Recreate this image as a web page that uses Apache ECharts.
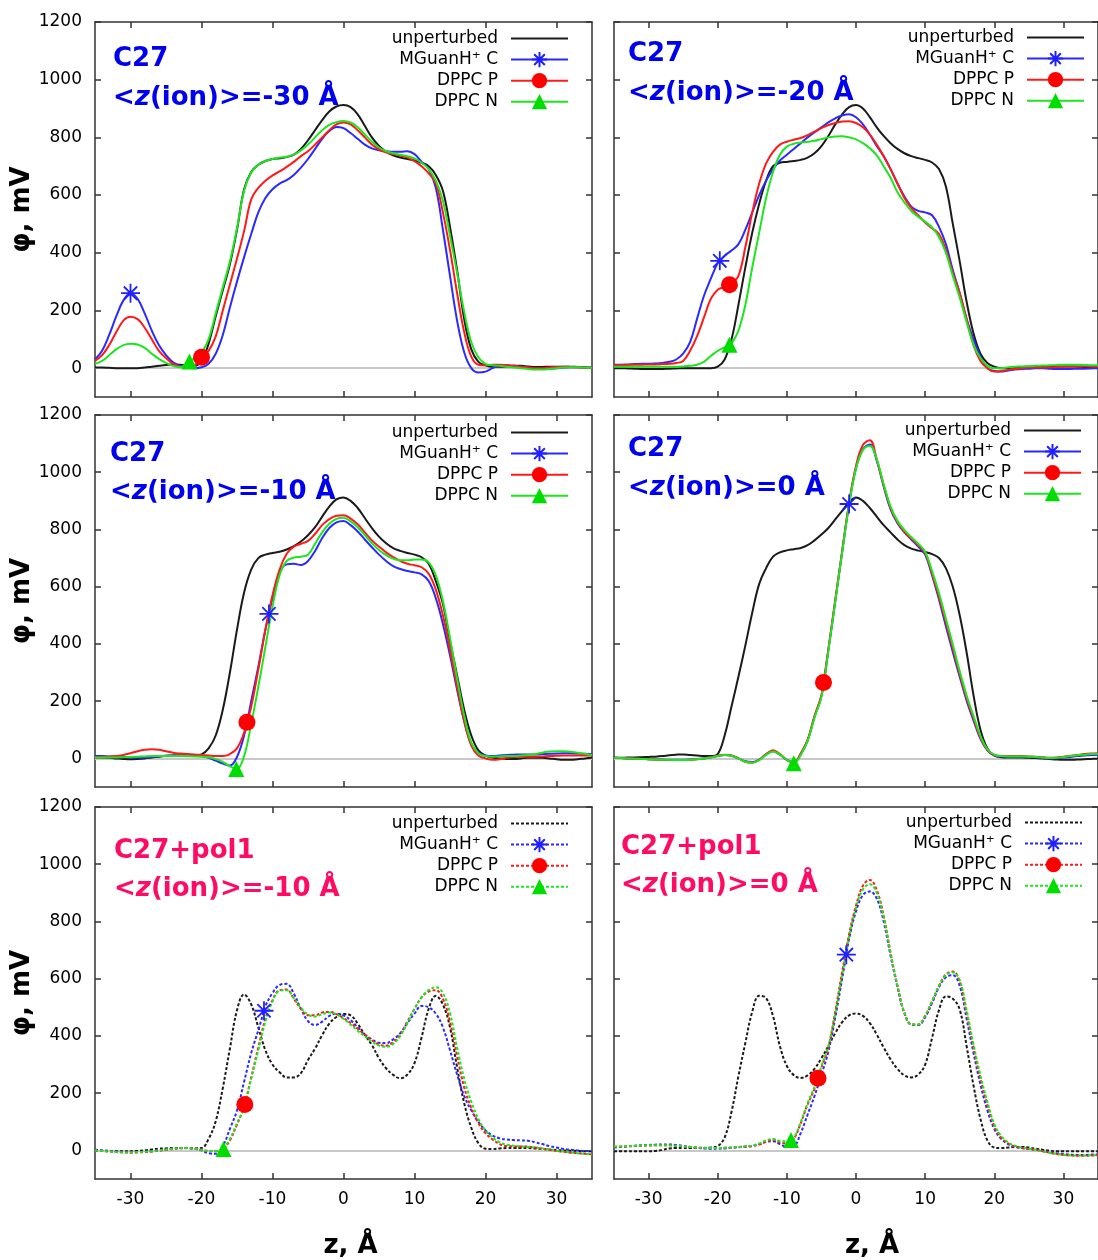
<!DOCTYPE html>
<html>
<head>
<meta charset="utf-8">
<script src="https://cdn.jsdelivr.net/npm/echarts@6/dist/echarts.min.js"></script>
<style>
  html, body { margin: 0; padding: 0; background: #fff; }
  #chart { width: 1098px; height: 1260px; }
</style>
</head>
<body>
<div id="chart"></div>
<script>
// sampling grid along z (Å), one point per Å from -35 to 35
const zGrid = [];
for (let z = -35; z <= 35; z++) zGrid.push(z);

const xTicks = [-30, -20, -10, 0, 10, 20, 30];
const yTicks = [0, 200, 400, 600, 800, 1000, 1200];
const seriesNames = ['unperturbed', 'MGuanH⁺ C', 'DPPC P', 'DPPC N'];

// ---- C27, <z(ion)> = -30 Å
const p1Unpert = [2,2,1,0,0,0,0,2,5,8, 11,13,12,8,8,25,85,180,270,360, 480,620,680,705,718,725,728,732,740,760,
  790,825,860,890,907,912,905,880,840,800, 770,750,738,730,725,720,712,700,670,615, 490,340,170,65,22,10,5,5,6,8,
  8,6,4,4,5,5,5,5,4,3,2];
const p1Guan = [30,60,115,180,235,260,240,190,130,80, 45,20,8,2,0,3,15,50,115,210, 300,385,465,540,590,620,640,652,670,695,
  725,760,795,822,836,832,815,795,775,762, 755,752,750,750,752,742,715,690,625,480, 320,165,55,0,-15,-12,0,10,10,8,
  5,2,0,-2,-2,0,2,3,3,2,1];
const p1DppcP = [25,45,80,125,165,178,170,140,100,60, 35,15,5,1,8,38,60,110,200,290, 380,475,585,625,650,668,682,698,715,735,
  752,775,800,825,845,852,845,825,800,775, 758,748,742,737,730,718,700,675,640,540, 410,260,125,40,12,10,12,12,10,8,
  5,2,0,0,2,4,5,4,3,2,1];
const p1DppcN = [15,25,45,65,80,85,82,70,50,32, 18,8,3,18,35,55,100,190,280,370, 485,615,678,705,718,725,730,733,740,755,
  775,800,825,843,853,857,852,835,810,785, 765,752,745,740,735,727,712,690,650,580, 460,330,195,90,38,15,10,8,5,2,
  0,-3,-5,-5,-3,0,2,3,3,2,1];
const p1Marks = [[-30, 260], [-20, 38], [-21.7, 23]];

// ---- C27, <z(ion)> = -20 Å
const p2Unpert = [0,0,-1,-2,-3,-3,-3,-3,-2,-1, 0,0,0,0,0,5,30,100,220,350, 470,570,650,700,712,715,718,722,730,745,
  770,805,845,880,905,912,900,870,835,805, 780,760,745,735,728,722,713,690,630,500, 370,230,120,50,18,5,0,0,2,4,
  5,4,4,5,6,6,6,5,4,3,2];
const p2Guan = [12,12,13,14,15,15,16,18,22,30, 50,90,170,250,310,365,390,408,430,480, 540,600,650,690,720,740,760,780,800,818,
  835,852,866,876,880,870,845,810,770,735, 690,640,595,560,545,540,530,490,430,340, 260,170,100,40,0,-10,-12,-8,-5,-3,
  -2,0,0,-2,-3,-3,-3,-2,-2,-1,0];
const p2DppcP = [10,10,11,12,12,13,13,14,15,18, 25,60,110,175,240,272,282,292,320,420, 540,640,710,750,775,785,792,798,808,820,
  832,843,850,855,856,850,835,810,775,735, 690,640,590,555,530,505,485,465,410,330, 260,170,80,25,0,-12,-10,-6,-3,0,
  2,2,2,3,4,5,6,6,7,6,5];
const p2DppcN = [5,5,5,5,5,5,5,5,5,5, 6,8,12,22,42,60,72,85,130,220, 350,470,590,680,740,768,778,782,785,788,
  794,800,803,804,800,793,780,762,738,700, 660,610,575,545,525,508,488,455,400,320, 245,160,80,35,8,0,0,3,5,6,
  7,8,9,10,11,12,12,12,11,10,10];
const p2Marks = [[-19.7, 372], [-18.3, 289], [-18.3, 81]];

// ---- C27, <z(ion)> = -10 Å
const p3Unpert = [3,3,2,0,-2,-3,-2,0,3,6, 9,10,10,10,11,14,35,80,170,300, 450,580,660,700,712,718,722,730,742,758,
  780,808,845,880,905,912,900,875,840,805, 775,752,735,725,718,712,703,680,620,540, 410,290,170,80,28,10,3,0,-2,-2,
  0,2,2,2,0,-3,-5,-5,-3,0,2];
const p3Guan = [8,8,7,6,5,3,2,3,5,7, 9,10,10,10,10,8,2,-8,-18,-25, 5,80,200,320,450,560,650,678,680,676,
  690,725,770,805,825,830,815,793,765,738, 712,690,672,662,655,650,643,620,560,470, 360,240,130,50,20,10,8,10,12,13,
  14,14,14,15,16,17,18,18,17,16,15];
const p3DppcP = [4,5,6,8,12,18,25,30,32,30, 25,20,17,15,14,12,10,8,8,15, 35,90,180,310,450,570,660,715,740,750,
  760,785,815,836,848,850,838,818,790,762, 740,720,703,690,680,675,668,645,590,500, 380,250,130,45,10,0,-5,-3,2,5,
  6,6,6,7,8,9,10,10,10,10,10];
const p3DppcN = [3,3,3,3,4,5,6,7,8,8, 8,8,8,8,7,6,4,-2,-12,-28, -38,8,120,250,390,530,640,690,702,705,
  712,750,790,820,837,841,828,808,780,752, 728,710,698,692,692,695,695,685,640,550, 420,280,150,55,18,8,6,7,8,8,
  10,12,15,20,24,25,25,23,20,16,12];
const p3Marks = [[-10.5, 505], [-13.6, 126], [-15.1, -37]];

// ---- C27, <z(ion)> = 0 Å
const p4Unpert = [2,2,3,3,4,5,6,8,11,13, 14,12,10,8,8,15,80,182,286,395, 510,610,665,705,720,727,731,735,745,762,
  782,805,835,865,895,912,900,875,845,815, 790,765,745,733,726,721,714,700,665,600, 500,370,220,100,35,10,4,3,3,3,
  2,1,0,-2,-4,-5,-5,-4,-3,-2,-1];
const p4Guan = [2,1,0,-1,-2,-3,-4,-4,-5,-5, -5,-4,-2,0,4,8,12,9,0,-10, -13,-4,14,25,13,-5,-14,14,62,146,
  218,378,550,722,889,1015,1080,1097,1040,950, 870,822,790,765,740,712,640,555,462,372, 285,202,132,68,28,10,7,7,7,6,
  5,4,2,0,1,3,5,8,10,12,13];
const p4DppcP = [2,1,0,-1,-2,-3,-4,-5,-6,-6, -6,-5,-3,0,4,9,13,10,0,-12, -15,-5,15,28,15,-5,-16,18,65,148,
  220,381,553,725,892,1022,1095,1112,1045,955, 875,825,792,768,745,718,645,565,475,385, 295,210,140,72,30,12,8,8,8,8,
  7,6,4,2,3,6,9,12,15,17,18];
const p4DppcN = [2,1,0,-1,-2,-3,-4,-5,-5,-6, -6,-5,-3,0,3,8,12,9,0,-12, -15,-6,12,24,13,-5,-17,12,60,143,
  215,375,548,720,885,1012,1078,1092,1045,958, 880,830,798,773,750,722,655,578,488,398, 305,220,148,78,32,13,8,7,7,7,
  6,5,3,1,2,5,8,11,13,15,16];
const p4Marks = [[-1, 889], [-4.7, 265], [-9, -17]];

// ---- C27+pol1, <z(ion)> = -10 Å
const p5Unpert = [0,-1,-2,-3,-3,-3,-2,0,3,6, 7,8,8,8,7,8,40,102,218,356, 490,545,510,430,350,300,273,255,255,270,
  316,356,403,443,466,477,472,443,403,368, 322,287,264,252,265,305,395,495,540,510, 430,290,165,79,25,6,5,7,8,8,
  8,8,7,5,3,1,0,-1,-2,-3,-3];
const p5Guan = [2,0,-2,-4,-5,-6,-6,-5,-3,0, 3,6,8,8,6,0,-10,-12,15,75, 140,240,340,420,505,550,578,582,548,495,
  452,438,450,470,478,472,455,430,405,388, 376,375,388,410,445,478,505,500,478,430, 350,265,190,140,100,70,52,42,38,36,
  35,34,28,22,15,10,5,2,0,-2,-3];
const p5DppcP = [0,-2,-4,-6,-7,-8,-7,-6,-4,-1, 2,5,7,8,6,2,-2,-3,3,35, 90,150,255,360,460,525,560,562,530,495,
  472,472,482,484,476,462,445,425,405,385, 370,366,378,405,450,495,535,555,560,530, 450,330,220,148,95,60,38,22,15,14,
  14,13,10,6,2,-2,-5,-8,-10,-12,-14];
const p5DppcN = [0,-2,-4,-6,-7,-7,-6,-5,-3,0, 3,6,8,8,6,2,-2,-2,2,40, 95,150,250,350,450,520,558,560,532,498,
  475,468,476,482,476,460,440,418,398,380, 366,362,372,400,445,495,535,560,570,550, 480,360,250,170,110,70,45,28,20,16,
  14,12,10,7,3,-1,-4,-7,-10,-12,-14];
const p5Marks = [[-11.2, 488], [-13.9, 160], [-16.9, 5]];

// ---- C27+pol1, <z(ion)> = 0 Å
const p6Unpert = [-3,-3,-3,-3,-3,-3,-2,2,7,8, 8,8,8,8,10,15,45,135,260,376, 485,540,532,469,364,295,263,253,262,285,
  322,365,410,448,472,478,470,445,405,360, 318,285,262,255,265,300,393,490,538,530, 492,364,226,110,35,10,8,10,12,12,
  10,6,2,-1,-3,-3,-3,-3,-3,-3,-3];
const p6Guan = [10,12,14,16,18,19,20,21,21,19, 16,12,9,7,6,6,7,9,11,13, 16,22,30,32,22,12,15,60,125,190,
  265,345,465,600,740,835,892,905,880,800, 680,570,480,440,438,465,515,570,605,612, 575,460,340,230,140,75,40,22,12,8,
  5,2,-2,-6,-10,-13,-15,-16,-16,-15,-14];
const p6DppcP = [12,13,14,15,16,17,18,18,18,16, 14,12,10,9,8,8,9,10,12,13, 15,20,30,37,28,25,40,95,160,215,
  290,360,485,625,755,855,925,945,910,820, 690,575,480,440,440,470,520,575,615,625, 590,480,360,250,160,85,45,25,14,8,
  5,2,-3,-8,-13,-16,-18,-19,-19,-18,-17];
const p6DppcN = [14,14,15,16,17,18,18,18,17,16, 14,12,10,9,8,8,9,10,12,14, 17,24,35,40,33,32,42,98,165,222,
  295,365,480,615,745,848,912,930,900,815, 690,575,482,440,440,472,522,575,612,622, 595,490,370,262,170,92,50,28,16,10,
  6,2,-3,-8,-12,-15,-17,-18,-18,-17,-16];
const p6Marks = [[-1.4, 684], [-5.5, 252], [-9.4, 36]];

const panelCurves = [
  [p1Unpert, p1Guan, p1DppcP, p1DppcN],
  [p2Unpert, p2Guan, p2DppcP, p2DppcN],
  [p3Unpert, p3Guan, p3DppcP, p3DppcN],
  [p4Unpert, p4Guan, p4DppcP, p4DppcN],
  [p5Unpert, p5Guan, p5DppcP, p5DppcN],
  [p6Unpert, p6Guan, p6DppcP, p6DppcN]
];
const panelMarks = [p1Marks, p2Marks, p3Marks, p4Marks, p5Marks, p6Marks];
const panelTitles = [
  ['C27', '-30 Å'], ['C27', '-20 Å'], ['C27', '-10 Å'],
  ['C27', '0 Å'], ['C27+pol1', '-10 Å'], ['C27+pol1', '0 Å']
];

// layout
const grids = [
  { left: 95, top: 22, width: 497, height: 375 },
  { left: 614, top: 22, width: 496, height: 375 },
  { left: 95, top: 415, width: 497, height: 372 },
  { left: 614, top: 415, width: 496, height: 372 },
  { left: 95, top: 807, width: 497, height: 375 },
  { left: 614, top: 807, width: 496, height: 375 }
];
const legendSpots = [[529, 30], [13, 29], [529, 424], [16, 422], [529, 815], [15, 814]];
const titleSpots = [[113, 59, 98], [628, 54, 93], [110, 454, 492], [628, 449, 488], [114, 851, 889], [621, 847, 885]];

const lineColors = ['#1a1a1a', '#2a2aff', '#ff1a1a', '#1ee61e'];
const markColors = ['#1a1a1a', '#2020ff', '#ff0000', '#00dd00'];
const asterisk = 'path://M0 5L10 5M5 0L5 10M1.5 1.5L8.5 8.5M8.5 1.5L1.5 8.5';
const markSymbols = ['none', asterisk, 'circle', 'triangle'];
const markSizes = [0, 19, 17, 16];
const borderCol = '#333';
const tickFont = { fontFamily: 'DejaVu Sans', fontSize: 17, color: '#000' };
const nameFont = { fontFamily: 'DejaVu Sans', fontWeight: 'bold', fontSize: 26, color: '#000' };

function buildData(vals, mark) {
  let pts = zGrid.map((z, i) => [z, vals[i]]);
  if (mark) {
    pts = pts.filter(p => p[0] !== mark[0]);
    pts.push(mark);
    pts.sort((a, b) => a[0] - b[0]);
  }
  return pts.map(p => (p === mark ? { value: p } : { value: p, symbol: 'none' }));
}

const xAxis = [], yAxis = [], series = [], legend = [], graphic = [];

grids.forEach((g, i) => {
  const leftCol = i % 2 === 0;
  const bottomRow = i >= 4;
  const lineCommon = { show: true, onZero: false, lineStyle: { color: borderCol, width: 1.5 } };
  ['bottom', 'top'].forEach(pos => {
    xAxis.push({
      gridIndex: i, type: 'value', min: -35, max: 35, position: pos,
      axisLine: lineCommon,
      axisTick: { show: true, inside: true, length: 6, customValues: xTicks, lineStyle: { color: borderCol, width: 1.5 } },
      axisLabel: Object.assign({ show: bottomRow && pos === 'bottom', customValues: xTicks, margin: 12,
        formatter: v => String(v) }, tickFont),
      splitLine: { show: false },
      name: bottomRow && pos === 'bottom' ? 'z, Å' : '',
      nameLocation: 'middle', nameGap: 54,
      nameTextStyle: Object.assign({ padding: [0, 0, 0, leftCol ? 14 : 32] }, nameFont)
    });
  });
  ['left', 'right'].forEach(pos => {
    yAxis.push({
      gridIndex: i, type: 'value', min: -100, max: 1200, position: pos,
      axisLine: lineCommon,
      axisTick: { show: true, inside: true, length: 6, customValues: yTicks, lineStyle: { color: borderCol, width: 1.5 } },
      axisLabel: Object.assign({ show: leftCol && pos === 'left', customValues: yTicks, margin: 13,
        formatter: v => String(v) }, tickFont),
      splitLine: { show: false },
      name: leftCol && pos === 'left' ? 'φ, mV' : '',
      nameLocation: 'middle', nameGap: 42,
      nameTextStyle: nameFont
    });
  });

  panelCurves[i].forEach((vals, k) => {
    const s = {
      name: seriesNames[k], type: 'line',
      xAxisIndex: i * 2, yAxisIndex: i * 2,
      smooth: 0.4, showSymbol: true,
      symbol: markSymbols[k], symbolSize: markSizes[k],
      data: buildData(vals, k === 0 ? null : panelMarks[i][k - 1]),
      lineStyle: { color: lineColors[k], width: 2, type: bottomRow ? [3, 2] : 'solid' },
      itemStyle: { color: markColors[k], borderColor: markColors[k], borderWidth: k === 1 ? 1.8 : 0 },
      emphasis: { disabled: true }
    };
    if (k === 0) {
      s.markLine = {
        silent: true, z: 1, symbol: ['none', 'none'], label: { show: false },
        lineStyle: { color: '#c8c8c8', width: 2, type: 'solid' },
        data: [{ yAxis: 0 }]
      };
    }
    series.push(s);
  });

  const lg = {
    orient: 'vertical', align: 'right', right: legendSpots[i][0], top: legendSpots[i][1],
    padding: 0, itemWidth: 57, itemHeight: 19, itemGap: 4, selectedMode: false,
    textStyle: Object.assign({ padding: [0, 8, 0, 0] }, tickFont),
    data: [{ name: seriesNames[0], itemStyle: { opacity: 0 } }, seriesNames[1], seriesNames[2], seriesNames[3]]
  };
  if (bottomRow) lg.lineStyle = { type: [3, 2] };
  legend.push(lg);

  const col = bottomRow ? '#ff0a64' : '#0000f0';
  const ts = titleSpots[i];
  graphic.push({
    type: 'text', x: ts[0], y: ts[1], silent: true,
    style: { text: panelTitles[i][0], fill: col, fontFamily: 'DejaVu Sans', fontWeight: 'bold', fontSize: 26, verticalAlign: 'middle' }
  });
  graphic.push({
    type: 'text', x: ts[0], y: ts[2], silent: true,
    style: {
      text: '<{i|z}(ion)>=' + panelTitles[i][1], fill: col,
      fontFamily: 'DejaVu Sans', fontWeight: 'bold', fontSize: 26, verticalAlign: 'middle',
      rich: { i: { fontStyle: 'italic', fontFamily: 'DejaVu Sans', fontWeight: 'bold', fontSize: 26, fill: col } }
    }
  });
});

const chart = echarts.init(document.getElementById('chart'));
chart.setOption({
  animation: false,
  backgroundColor: '#fff',
  grid: grids,
  xAxis, yAxis, series, legend, graphic
});
</script>
</body>
</html>
